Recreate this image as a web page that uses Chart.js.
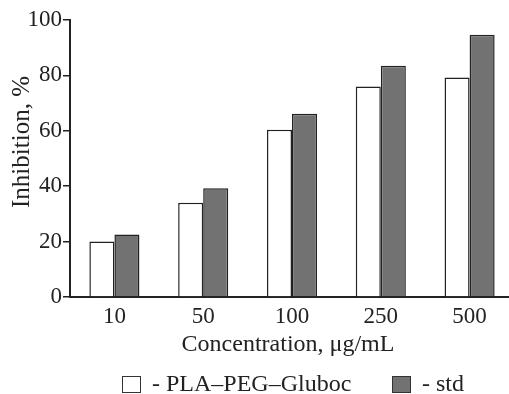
<!DOCTYPE html>
<html>
<head>
<meta charset="utf-8">
<script src="https://cdn.jsdelivr.net/npm/chart.js@4/dist/chart.umd.min.js"></script>
<style>
  html, body { margin: 0; padding: 0; background: #fff; overflow: hidden; }
  #wrap { width: 514px; height: 394px; }
</style>
</head>
<body>
<div id="wrap"><canvas id="chart_inhibition"></canvas></div>
<script>
const concentrations = ['10', '50', '100', '250', '500'];
const plaPegGluboc = [20, 34, 60.4, 76, 79.2];
const stdValues = [22.6, 39.3, 66.2, 83.5, 94.7];
const seriesNames = ['- PLA\u2013PEG\u2013Gluboc', '- std'];
const yTitle = 'Inhibition, %';
const xTitle = 'Concentration, \u03bcg/mL';

Chart.defaults.font.family = '"Liberation Serif", "Times New Roman", serif';
Chart.defaults.color = '#222';

// axis titles and legend drawn by hand so they sit where the original has them
const annotate = {
    id: 'annotate',
    afterDraw: (chart) => {
        const ctx = chart.ctx;
        ctx.save();
        ctx.fillStyle = '#222';
        ctx.textAlign = 'center';
        ctx.textBaseline = 'middle';
        ctx.font = '24px "Liberation Serif"';
        ctx.fillText(xTitle, 288, 345);
        ctx.save();
        ctx.font = '25px "Liberation Serif"';
        ctx.translate(22, 142);
        ctx.rotate(-Math.PI / 2);
        ctx.fillText(yTitle, 0, 0);
        ctx.restore();

        const boxX = [122, 392];
        ctx.font = '24px "Liberation Serif"';
        ctx.textAlign = 'left';
        chart.data.datasets.forEach((ds, i) => {
            ctx.fillStyle = ds.backgroundColor;
            ctx.strokeStyle = '#333';
            ctx.lineWidth = 1;
            ctx.fillRect(boxX[i], 376, 19, 17);
            ctx.strokeRect(boxX[i] + 0.5, 376.5, 18, 16);
            ctx.fillStyle = '#222';
            ctx.fillText(ds.label, boxX[i] + 30, 385);
        });
        ctx.restore();
    }
};

new Chart(document.getElementById('chart_inhibition'), {
    type: 'bar',
    data: {
        labels: concentrations,
        datasets: [
            {
                label: seriesNames[0],
                data: plaPegGluboc,
                backgroundColor: '#ffffff',
                borderColor: '#222',
                borderWidth: 1.5
            },
            {
                label: seriesNames[1],
                data: stdValues,
                backgroundColor: '#727272',
                borderColor: '#222',
                borderWidth: 1.5
            }
        ]
    },
    options: {
        animation: false,
        responsive: true,
        maintainAspectRatio: false,
        categoryPercentage: 0.564,
        barPercentage: 1,
        layout: { padding: { top: 20, left: 0, right: 0, bottom: 0 } },
        plugins: {
            legend: { display: false },
            tooltip: { enabled: false }
        },
        scales: {
            x: {
                grid: { display: false, drawTicks: false },
                border: { display: true, color: '#222', width: 2 },
                ticks: { font: { size: 23 }, padding: 6, maxRotation: 0 },
                afterFit: (scale) => { scale.height = 97; }
            },
            y: {
                min: 0,
                max: 100,
                grid: { drawOnChartArea: false, drawTicks: true, tickLength: 7, color: '#222', lineWidth: 1.5 },
                border: { display: true, color: '#222', width: 2 },
                ticks: {
                    stepSize: 10,
                    padding: 1,
                    font: { size: 23 },
                    callback: function(value) {
                        return value % 20 === 0 ? value : '';
                    }
                },
                afterFit: (scale) => { scale.width = 70; }
            }
        }
    },
    plugins: [annotate]
});
</script>
</body>
</html>
